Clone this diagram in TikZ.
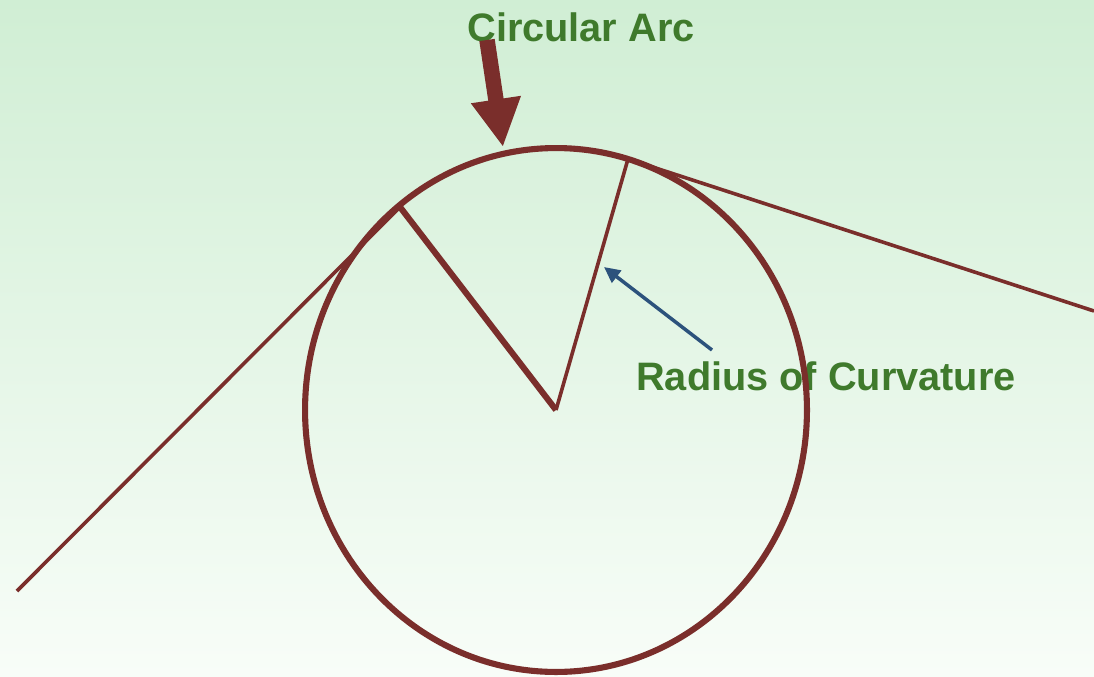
\documentclass[tikz,border=0pt]{standalone}
\usepackage{fontspec}
\setmainfont{Liberation Sans}
\usetikzlibrary{arrows.meta}
\definecolor{curvered}{HTML}{7A2E2B}
\definecolor{labelgreen}{HTML}{3F7A2C}
\definecolor{pointblue}{HTML}{2C527C}
\definecolor{bgtop}{HTML}{D0EED4}
\definecolor{bgbottom}{HTML}{F8FDF8}
\tikzset{
  label text/.style={text=labelgreen,font=\bfseries\fontsize{22.6}{27}\selectfont,inner sep=0pt},
  thin line/.style={draw=curvered,line width=0.72mm},
  thick line/.style={draw=curvered,line width=1.22mm},
}
\begin{document}
\begin{tikzpicture}[x=0.02cm,y=-0.02cm]
  \shade[top color=bgtop,bottom color=bgbottom] (0,0) rectangle (1094,676);
  \useasboundingbox (0,0) rectangle (1094,676);
  \coordinate (centre) at (556,410);
  \coordinate (farleft) at (17,591);
  \coordinate (touchleft) at (400,207);
  \coordinate (touchright) at (628,159);
  \coordinate (farright) at (1094,311);
  \coordinate (arcfrom) at (487,40);
  \coordinate (arcto) at (503,147);
  \coordinate (radfrom) at (712,350);
  \coordinate (radto) at (604,267);
  \node[label text] (arctext) at (581,27) {Circular Arc};
  \node[label text] (radtext) at (826,376) {Radius of Curvature};
  \draw[thick line] (centre) ellipse [x radius=5.02cm,y radius=5.24cm];
  \draw[thin line] (farleft) -- (touchleft);
  \draw[thin line] (touchright) -- (farright);
  \draw[thick line] (touchleft) -- (centre);
  \draw[thin line] (centre) -- (touchright);
  \draw[curvered,line width=3.1mm,-{Triangle[length=9.6mm,width=9.4mm]}] (arcfrom) -- (arcto);
  \draw[pointblue,line width=0.7mm,-{Triangle[length=3.2mm,width=3mm]}] (radfrom) -- (radto);
\end{tikzpicture}
\end{document}
